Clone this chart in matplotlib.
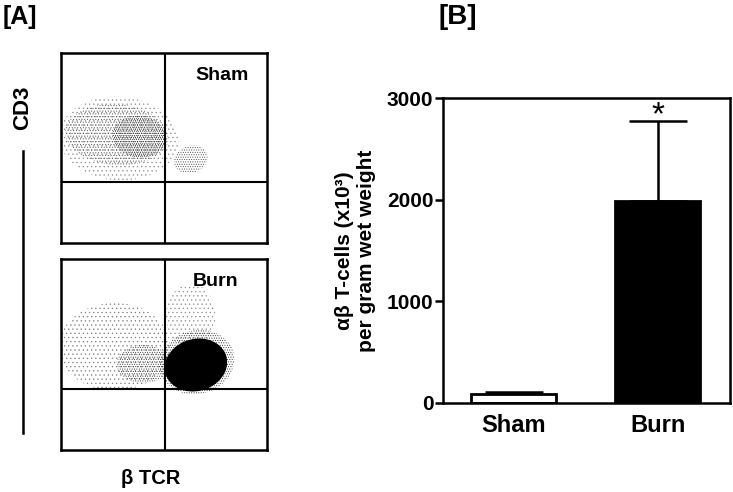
import matplotlib
matplotlib.use("Agg")
import matplotlib.pyplot as plt
from matplotlib.patches import Ellipse
from matplotlib.lines import Line2D

plt.rcParams['font.family'] = ['Liberation Sans', 'DejaVu Sans']
plt.rcParams['font.weight'] = 'bold'
plt.rcParams['hatch.linewidth'] = 0.4

# ---- data ----
categories = ["Sham", "Burn"]
means = [90, 1985]
err_up = [15, 790]
yticks = [0, 1000, 2000, 3000]

# flow-cytometry populations: (x, y, width, height, angle, hatch, colour)
sham_pops = [
    (0.28, 0.55, 0.58, 0.44, -5, '....', '#8a8a8a'),
    (0.27, 0.57, 0.50, 0.32, -5, '......', '#5a5a5a'),
    (0.38, 0.56, 0.26, 0.22, -10, '........', '#2a2a2a'),
    (0.63, 0.44, 0.17, 0.14, 25, '.......', '#444444'),
]
burn_pops = [
    (0.26, 0.54, 0.54, 0.46, 0, '....', '#7a7a7a'),
    (0.63, 0.70, 0.24, 0.34, 0, '....', '#8a8a8a'),
    (0.40, 0.45, 0.26, 0.20, 0, '.......', '#3a3a3a'),
    (0.66, 0.46, 0.37, 0.33, 25, '.......', '#2a2a2a'),
    (0.655, 0.445, 0.31, 0.27, 25, 'solid', 'black'),
]
gate_x = 0.505
gate_y = 0.32

W, H = 733, 492
fig = plt.figure(figsize=(W / 100, H / 100), dpi=100)

def fbox(l, t, r, b):
    return [l / W, 1 - b / H, (r - l) / W, (b - t) / H]

def draw_flow(ax, pops, label, lx, ly):
    for (x, y, w, h, ang, hatch, col) in pops:
        if hatch == 'solid':
            e = Ellipse((x, y), w, h, angle=ang, facecolor=col,
                        edgecolor=col, linewidth=0)
        else:
            e = Ellipse((x, y), w, h, angle=ang, facecolor='none',
                        edgecolor=col, linewidth=0, hatch=hatch)
        ax.add_patch(e)
    ax.axvline(gate_x, color='black', lw=1.5)
    ax.axhline(gate_y, color='black', lw=1.5)
    ax.set_xlim(0, 1)
    ax.set_ylim(0, 1)
    ax.set_xticks([])
    ax.set_yticks([])
    for s in ax.spines.values():
        s.set_linewidth(1.8)
    ax.text(lx, ly, label, transform=ax.transAxes, fontsize=14,
            fontweight='bold', ha='center', va='center')

ax1 = fig.add_axes(fbox(61, 53, 267, 243))
draw_flow(ax1, sham_pops, "Sham", 0.78, 0.88)
ax2 = fig.add_axes(fbox(61, 259, 267, 450))
draw_flow(ax2, burn_pops, "Burn", 0.75, 0.88)

fig.text(20 / W, 1 - 17 / H, "[A]", fontsize=18, fontweight='bold',
         ha='center', va='center')
fig.text(23 / W, 1 - 108 / H, "CD3", fontsize=16, fontweight='bold',
         ha='center', va='center', rotation=90)
fig.add_artist(Line2D([23 / W, 23 / W], [1 - 151 / H, 1 - 433 / H],
                      color='black', lw=1.8, transform=fig.transFigure))
fig.text(151 / W, 1 - 478 / H, "β TCR", fontsize=14.5, fontweight='bold',
         ha='center', va='center')

# ---- bar chart ----
ax3 = fig.add_axes(fbox(443, 98, 730, 403))
xpos = list(range(len(categories)))
ax3.bar(xpos, means, width=0.59, color=['white', 'black'],
        edgecolor='black', linewidth=2, zorder=2)
ax3.errorbar(xpos, means, yerr=[[0] * len(means), err_up], fmt='none',
             ecolor='black', elinewidth=1.8, capsize=21, capthick=1.8, zorder=1)
ax3.text(xpos[1], means[1] + err_up[1] + 55, "*", fontsize=24,
         fontweight='normal', ha='center', va='center')
ax3.set_xlim(-0.49, 1.5)
ax3.set_ylim(0, 3000)
ax3.set_yticks(yticks)
ax3.set_yticklabels([str(t) for t in yticks], fontsize=15, fontweight='bold')
ax3.set_xticks(xpos)
ax3.set_xticklabels(categories, fontsize=17, fontweight='bold')
ax3.tick_params(axis='x', length=0, pad=8)
ax3.tick_params(axis='y', length=6, width=1.8, pad=1)
for s in ax3.spines.values():
    s.set_linewidth(1.8)
ax3.set_ylabel("αβ T-cells (x10³)\nper gram wet weight", fontsize=15,
               fontweight='bold', labelpad=8, linespacing=1.15)

fig.text(458 / W, 1 - 17 / H, "[B]", fontsize=20, fontweight='bold',
         ha='center', va='center')

fig.savefig("out.png", dpi=100)
